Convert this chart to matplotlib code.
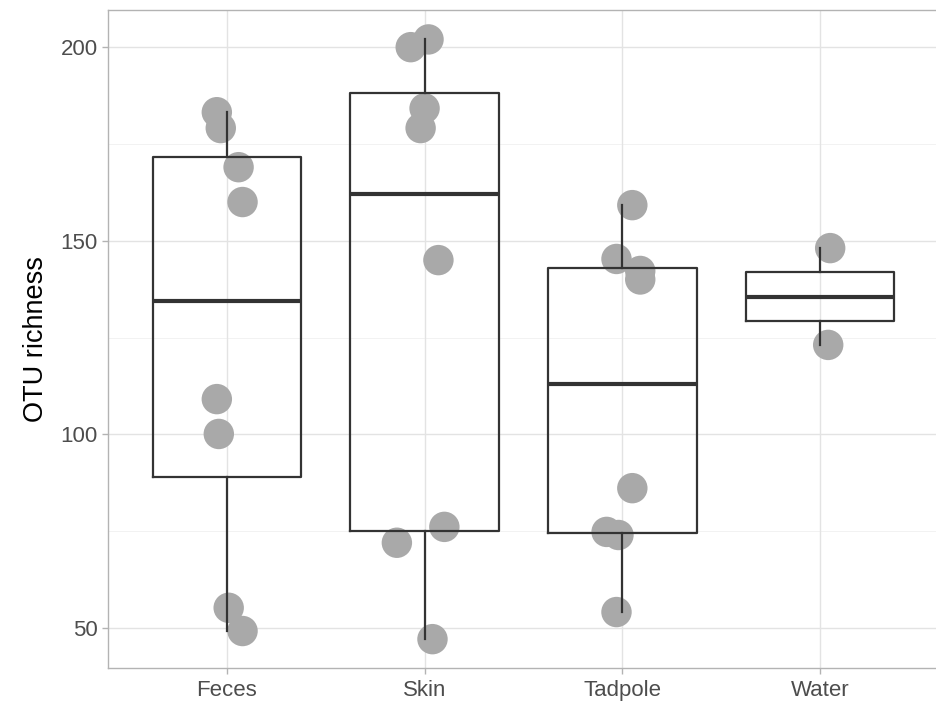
import matplotlib
matplotlib.use("Agg")
import matplotlib.pyplot as plt
import numpy as np

plt.rcParams['font.family'] = ['Liberation Sans', 'DejaVu Sans']

categories = ["Feces", "Skin", "Tadpole", "Water"]

feces = [183.2, 179.1, 169.0, 160.0, 109.1, 100.1, 55.2, 49.2]
feces_jit = [-0.05, -0.03, 0.06, 0.08, -0.05, -0.04, 0.01, 0.08]
skin = [200.0, 202.0, 184.2, 179.1, 145.0, 72.0, 76.1, 47.1]
skin_jit = [-0.07, 0.02, 0.00, -0.02, 0.07, -0.14, 0.10, 0.04]
tadpole = [159.2, 145.3, 142.2, 140.0, 86.1, 74.8, 74.0, 54.1]
tadpole_jit = [0.05, -0.03, 0.09, 0.09, 0.05, -0.08, -0.02, -0.03]
water = [148.1, 123.1]
water_jit = [0.05, 0.04]

values = [feces, skin, tadpole, water]
jitters = [feces_jit, skin_jit, tadpole_jit, water_jit]

fig = plt.figure(figsize=(9.37, 7.03), dpi=100)
ax = fig.add_axes([108/937, 35/703, 831/937, 658/703])

# grid
for y in [75, 125, 175]:
    ax.axhline(y, color='#F0F0F0', lw=0.6, zorder=0)
for y in [50, 100, 150, 200]:
    ax.axhline(y, color='#E3E3E3', lw=1.0, zorder=0)
for x in range(1, 5):
    ax.axvline(x, color='#E3E3E3', lw=1.0, zorder=0)

# points
for i, (v, j) in enumerate(zip(values, jitters)):
    xs = np.array(j) + (i + 1)
    ax.scatter(xs, v, s=480, color='#A9A9A9', edgecolors='none', zorder=2)

# boxplots
ax.boxplot(values, positions=range(1, 5), widths=0.75, whis=1.5,
           patch_artist=False, showfliers=False, showcaps=False,
           boxprops=dict(color='#333333', lw=1.6),
           whiskerprops=dict(color='#333333', lw=1.6),
           medianprops=dict(color='#333333', lw=3.0),
           zorder=3)

ax.set_xlim(0.4, 4.6)
ax.set_ylim(39.65, 209.6)
ax.set_xticks(range(1, 5))
ax.set_xticklabels(categories)
ax.set_yticks([50, 100, 150, 200])
ax.set_yticklabels(['50', '100', '150', '200'])

for s in ax.spines.values():
    s.set_color('#B3B3B3')
    s.set_linewidth(1.0)
ax.spines['right'].set_visible(False)

ax.tick_params(axis='both', colors='#B3B3B3', length=4.5, width=1.0,
               labelcolor='#4D4D4D', labelsize=16)
ax.tick_params(axis='x', pad=4)
ax.tick_params(axis='y', pad=3)
ax.set_ylabel('OTU richness', fontsize=19.5, color='black', labelpad=8)

fig.savefig('out.png', dpi=100)
